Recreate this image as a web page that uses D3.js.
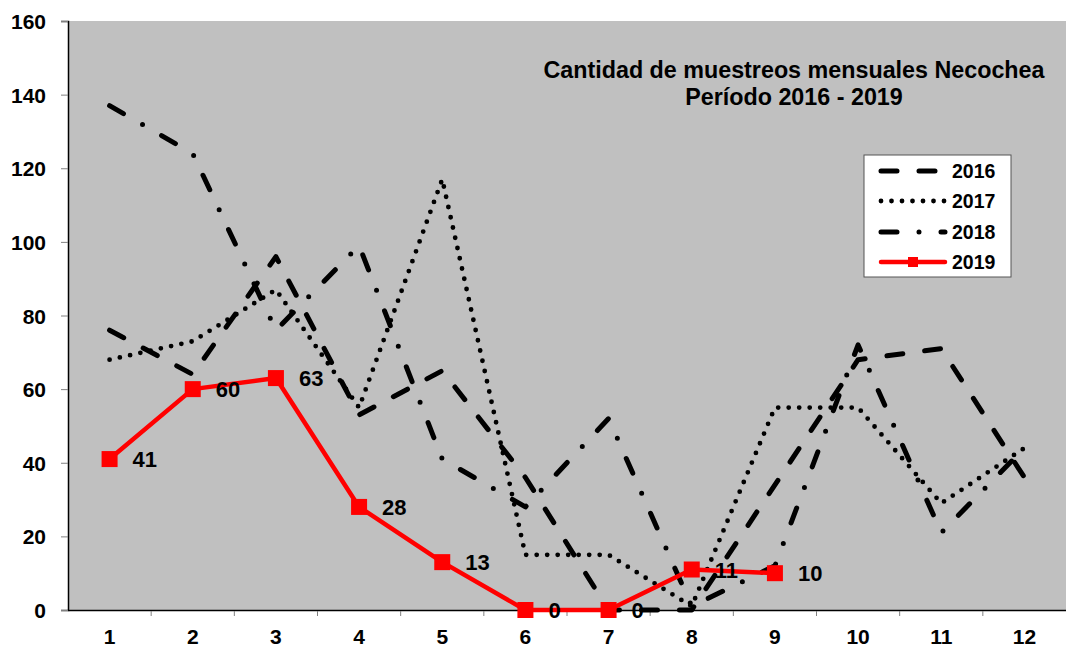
<!DOCTYPE html>
<html>
<head>
<meta charset="utf-8">
<script src="https://cdn.jsdelivr.net/npm/d3@7"></script>
<style>
  body { margin: 0; background: #fff; }
  text { font-family: "Liberation Sans", Arial, sans-serif; font-weight: bold; }
</style>
</head>
<body>
<div id="chart"></div>
<script>
const months = [1, 2, 3, 4, 5, 6, 7, 8, 9, 10, 11, 12]
const yTicks = [0, 20, 40, 60, 80, 100, 120, 140, 160]
const v2016 = [76, 64, 96, 53, 65, 36, 0, 0, 34, 68, 71, 36]
const v2017 = [68, 73, 87, 55, 117, 15, 15, 1, 55, 55, 29, 44]
const v2018 = [137, 124, 76, 99, 41, 28, 52, 1, 12, 72, 21, 44]
const v2019 = [41, 60, 63, 28, 13, 0, 0, 11, 10]
const titleLines = ['Cantidad de muestreos mensuales Necochea', 'Período 2016 - 2019']

init()

function init(){
    const W = 1066, H = 648
    const left = 68, right = 1066, top = 21, bottom = 610

    let svg = d3.select('#chart')
                .append('svg')
                .attr('width', W)
                .attr('height', H)

    const x = d3.scaleBand().domain(months).range([left, right])
    const y = d3.scaleLinear().domain([0, 160]).range([bottom, top])
    const cx = d => x(d) + x.bandwidth() / 2

    // plot area
    svg.append('rect')
        .attr('x', left).attr('y', top)
        .attr('width', right - left).attr('height', bottom - top)
        .style('fill', '#c0c0c0')

    // y axis
    let yAxis = svg.append('g')
        .attr('transform', `translate(${left},0)`)
        .call(d3.axisLeft(y).tickValues(yTicks).tickSize(7).tickPadding(15))
    yAxis.select('.domain').style('stroke', '#000').style('stroke-width', 1.5)
    yAxis.selectAll('.tick line').style('stroke', '#808080')
    yAxis.selectAll('.tick text')
        .style('font-size', '21px')
        .style('font-family', '"Liberation Sans", Arial, sans-serif')
        .style('font-weight', 'bold')
        .attr('fill', '#000')
        .attr('dy', '0.36em')

    // x axis labels at category centers, ticks at boundaries
    let xAxis = svg.append('g')
        .attr('transform', `translate(0,${bottom})`)
        .call(d3.axisBottom(x).tickSize(0).tickPadding(19))
    xAxis.select('.domain').style('stroke', '#000').style('stroke-width', 1.5)
    xAxis.selectAll('.tick text')
        .style('font-size', '21px')
        .style('font-family', '"Liberation Sans", Arial, sans-serif')
        .style('font-weight', 'bold')
        .attr('fill', '#000')
    svg.append('g').selectAll('line')
        .data(months.slice(1))
        .join('line')
        .attr('x1', d => x(d)).attr('x2', d => x(d))
        .attr('y1', bottom + 1).attr('y2', bottom + 6)
        .style('stroke', '#808080')

    const line = d3.line().x((d, i) => cx(months[i])).y(d => y(d))

    const styles = {
        '2016': { dash: '16,22', width: 5 },
        '2017': { dash: '0,10.5', width: 4.8 },
        '2018': { dash: '16,22,0,22', width: 5 }
    }
    const series = [['2016', v2016], ['2017', v2017], ['2018', v2018]]

    series.forEach(([name, vals]) => {
        svg.append('path')
            .datum(vals)
            .attr('d', line)
            .style('fill', 'none')
            .style('stroke', '#000')
            .style('stroke-width', styles[name].width)
            .style('stroke-dasharray', styles[name].dash)
            .style('stroke-linecap', 'round')
            .style('stroke-linejoin', 'round')
    })

    svg.append('path')
        .datum(v2019)
        .attr('d', line)
        .style('fill', 'none')
        .style('stroke', '#ff0000')
        .style('stroke-width', 4.5)
        .style('stroke-linejoin', 'round')

    svg.append('g').selectAll('rect')
        .data(v2019)
        .join('rect')
        .attr('x', (d, i) => cx(months[i]) - 8)
        .attr('y', d => y(d) - 8)
        .attr('width', 16).attr('height', 16)
        .style('fill', '#ff0000')

    svg.append('g').selectAll('text')
        .data(v2019)
        .join('text')
        .attr('x', (d, i) => cx(months[i]) + 23)
        .attr('y', d => y(d) + 8)
        .style('font-size', '22px')
        .text(d => d)

    // title
    svg.append('g').selectAll('text')
        .data(titleLines)
        .join('text')
        .attr('x', 794)
        .attr('y', (d, i) => 78 + i * 27)
        .attr('text-anchor', 'middle')
        .style('font-size', '23.3px')
        .text(d => d)

    // legend
    let legend = svg.append('g').attr('transform', 'translate(864,155)')
    legend.append('rect')
        .attr('width', 147).attr('height', 122)
        .style('fill', '#fff')
        .style('stroke', '#555')
        .style('stroke-width', 1)

    const legendRows = ['2016', '2017', '2018', '2019']
    const rowY = [16, 46, 77, 107]
    legendRows.forEach((name, i) => {
        let g = legend.append('g').attr('transform', `translate(0,${rowY[i]})`)
        if (name === '2019') {
            g.append('line')
                .attr('x1', 17).attr('x2', 81)
                .style('stroke', '#ff0000').style('stroke-width', 4.5)
                .style('stroke-linecap', 'round')
            g.append('rect')
                .attr('x', 44).attr('y', -5).attr('width', 10).attr('height', 10)
                .style('fill', '#ff0000')
        } else {
            g.append('line')
                .attr('x1', 17).attr('x2', 81)
                .style('stroke', '#000')
                .style('stroke-width', styles[name].width)
                .style('stroke-dasharray', styles[name].dash)
                .style('stroke-linecap', 'round')
        }
        g.append('text')
            .attr('x', 88).attr('y', 7)
            .style('font-size', '19.5px')
            .text(name)
    })
}
</script>
</body>
</html>
